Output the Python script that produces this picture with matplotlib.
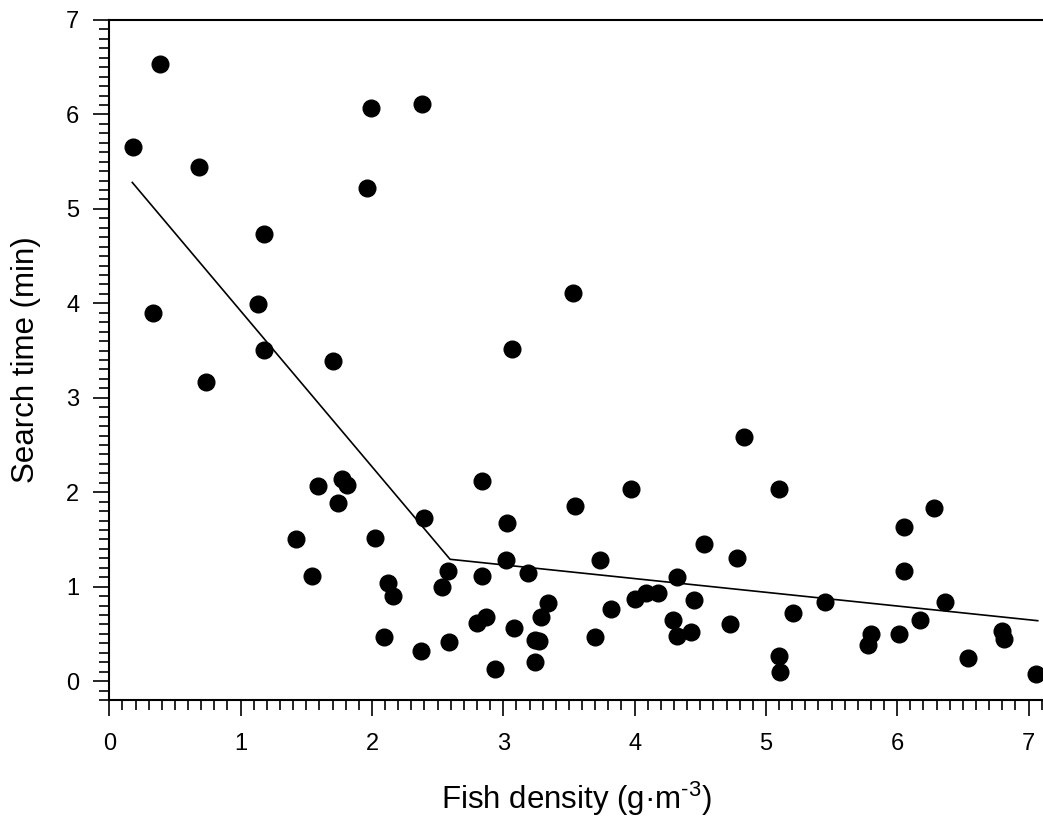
import numpy as np
import matplotlib
matplotlib.use("Agg")
import matplotlib.pyplot as plt
from matplotlib.ticker import MultipleLocator

# fish density (g m^-3) vs search time (min)
density = [0.18, 0.385, 0.335, 0.68, 0.74, 1.135, 1.18, 1.18, 1.70, 1.99,
           1.965, 2.38, 1.587, 1.77, 1.81, 1.74, 2.40, 1.42, 2.02, 1.54,
           2.125, 2.16, 2.09, 2.37, 2.59, 2.58, 2.53, 2.84, 3.03, 3.02,
           2.84, 3.19, 3.34, 3.285, 2.87, 2.80, 3.08, 3.24, 3.275, 3.24,
           2.94, 3.55, 3.065, 3.53, 3.97, 3.74, 3.82, 3.70, 4.00, 4.09,
           4.18, 4.32, 4.455, 4.29, 4.32, 4.43, 4.53, 4.73, 4.78, 4.83,
           5.10, 5.10, 5.11, 5.205, 5.45, 5.78, 5.80, 6.01, 6.05, 6.055,
           6.17, 6.28, 6.365, 6.54, 6.80, 6.81, 7.06]
search_time = [5.65, 6.53, 3.90, 5.44, 3.17, 3.99, 4.73, 3.505, 3.39, 6.07,
               5.22, 6.11, 2.07, 2.14, 2.08, 1.89, 1.73, 1.50, 1.52, 1.115,
               1.04, 0.90, 0.47, 0.32, 0.41, 1.17, 1.00, 2.12, 1.67, 1.28,
               1.115, 1.15, 0.83, 0.68, 0.68, 0.62, 0.565, 0.44, 0.42, 0.20,
               0.13, 1.85, 3.52, 4.11, 2.03, 1.28, 0.76, 0.47, 0.865, 0.935,
               0.935, 1.10, 0.86, 0.645, 0.48, 0.52, 1.45, 0.60, 1.30, 2.58,
               2.03, 0.27, 0.10, 0.72, 0.84, 0.38, 0.495, 0.50, 1.17, 1.63,
               0.65, 1.835, 0.84, 0.25, 0.53, 0.45, 0.08]

# broken-stick fit
fit_x = [0.175, 2.595, 7.07]
fit_y = [5.28, 1.29, 0.64]

plt.rcParams['font.family'] = 'Liberation Sans'
plt.rcParams['mathtext.fontset'] = 'custom'
plt.rcParams['mathtext.rm'] = 'Liberation Sans'
plt.rcParams['mathtext.default'] = 'regular'

fig = plt.figure(figsize=(10.43, 8.26), dpi=100)
ax = fig.add_axes([0.1048, 0.1525, 0.8952, 0.8233])

ax.plot(fit_x, fit_y, color='black', lw=1.2)
ax.plot(density, search_time, 'o', color='black', ms=12, clip_on=False)

ax.set_xlim(0, 7.11)
ax.set_ylim(-0.2, 7)

ax.xaxis.set_major_locator(MultipleLocator(1))
ax.xaxis.set_minor_locator(MultipleLocator(0.1))
ax.yaxis.set_major_locator(MultipleLocator(1))
ax.yaxis.set_minor_locator(MultipleLocator(0.1))

ax.spines['right'].set_visible(False)
for s in ['left', 'bottom', 'top']:
    ax.spines[s].set_linewidth(1.5)

ax.tick_params(which='major', direction='out', length=11.5, width=1.2, labelsize=17)
ax.tick_params(which='minor', direction='out', length=7, width=1.2)
ax.tick_params(axis='x', which='major', pad=12)
ax.tick_params(axis='y', which='major', pad=10)
ax.tick_params(top=False, right=False, which='both')

ax.set_xlabel(r'Fish density (g·m$^{\text{-}3}$)', fontsize=22.5, labelpad=18)
ax.set_ylabel('Search time (min)', fontsize=22.5, labelpad=18)

fig.savefig('out.png', dpi=100)
